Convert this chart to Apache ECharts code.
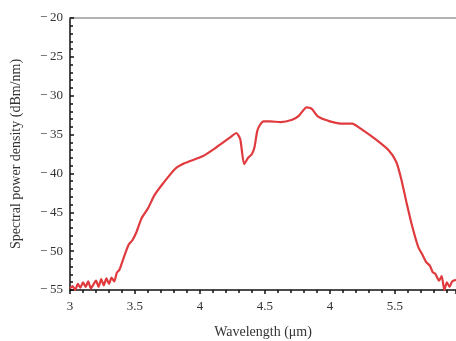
<!DOCTYPE html>
<html>
<head>
<meta charset="utf-8">
<script src="https://cdn.jsdelivr.net/npm/echarts@6/dist/echarts.min.js"></script>
<style>
  html, body { margin: 0; padding: 0; background: #fff; }
  #chart { width: 456px; height: 341px; }
</style>
</head>
<body>
<div id="chart"></div>
<script>
// wavelength (um) and spectral power density (dBm/nm)
const wavelength = [
  3.00, 3.02, 3.04, 3.06, 3.08, 3.10, 3.12, 3.14, 3.16, 3.18, 3.20, 3.22, 3.24, 3.26, 3.28, 3.30,
  3.32, 3.34, 3.36, 3.38, 3.41, 3.45, 3.48, 3.51, 3.55, 3.60, 3.65, 3.72, 3.81, 3.88, 4.02, 4.13,
  4.23, 4.28, 4.31, 4.34, 4.37, 4.40, 4.42, 4.44, 4.46, 4.49, 4.54, 4.62, 4.71, 4.76, 4.82, 4.86,
  4.91, 5.00, 5.10, 5.17, 5.25, 5.35, 5.45, 5.51, 5.55, 5.59, 5.63, 5.68, 5.71, 5.74, 5.77, 5.79,
  5.81, 5.84, 5.86, 5.88, 5.90, 5.92, 5.94, 5.97
];
const power = [
  -54.8, -54.5, -55.0, -54.2, -54.7, -54.0, -54.6, -53.9, -54.8, -54.3, -53.8, -54.6, -53.6, -54.4, -53.5, -54.2,
  -53.4, -53.9, -52.8, -52.4, -51.0, -49.2, -48.6, -47.6, -45.8, -44.5, -42.8, -41.2, -39.4, -38.7, -37.8, -36.6,
  -35.4, -34.8, -35.6, -38.8, -38.0, -37.5, -36.6, -34.6, -33.8, -33.3, -33.3, -33.4, -33.1, -32.6, -31.5, -31.7,
  -32.7, -33.3, -33.6, -33.6, -34.4, -35.6, -37.0, -38.5, -40.8, -43.8, -46.6, -49.5, -50.4, -51.4, -51.9, -52.7,
  -52.9, -53.8, -53.2, -55.0, -54.0, -54.6, -53.9, -53.7
];
const xTicks = { 3: '3', 3.5: '3.5', 4: '4', 4.5: '4.5', 5: '4', 5.5: '5.5' };

const font = 'Liberation Serif';
const chart = echarts.init(document.getElementById('chart'));
chart.setOption({
  animation: false,
  grid: { left: 70, right: 0, top: 18, bottom: 51, outerBoundsMode: 'none' },
  xAxis: [{
    type: 'value', min: 3, max: 5.97, interval: 0.5,
    name: 'Wavelength (μm)', nameLocation: 'middle', nameGap: 35,
    nameTextStyle: { fontFamily: font, fontSize: 14, color: '#333' },
    axisLine: { lineStyle: { color: '#111', width: 1.5 } },
    axisTick: { length: 4, lineStyle: { color: '#111', width: 1.5 } },
    minorTick: { show: true, splitNumber: 5, length: 3, lineStyle: { color: '#111', width: 1.5 } },
    axisLabel: {
      fontFamily: font, fontSize: 13, color: '#333', margin: 10, showMaxLabel: false,
      formatter: v => xTicks[v] !== undefined ? xTicks[v] : ''
    },
    splitLine: { show: false }
  }, {
    type: 'value', position: 'top', min: 3, max: 5.97,
    axisLine: { show: true, lineStyle: { color: '#999', width: 1.5 } },
    axisTick: { show: false }, axisLabel: { show: false }, splitLine: { show: false }
  }],
  yAxis: {
    type: 'value', min: -55, max: -20, interval: 5,
    name: 'Spectral power density (dBm/nm)', nameLocation: 'middle', nameGap: 47,
    nameTextStyle: { fontFamily: font, fontSize: 14, color: '#333' },
    axisLine: { show: true, lineStyle: { color: '#111', width: 1.5 } },
    axisTick: { inside: true, length: 4, lineStyle: { color: '#111', width: 1.5 } },
    minorTick: { show: true, splitNumber: 5, length: 3, lineStyle: { color: '#111', width: 1.5 } },
    axisLabel: {
      fontFamily: font, fontSize: 13, color: '#333', margin: 7,
      formatter: v => '\u2212\u2009' + Math.abs(v)
    },
    splitLine: { show: false }
  },
  series: [{
    type: 'line', xAxisIndex: 0,
    data: wavelength.map((w, i) => [w, power[i]]),
    showSymbol: false, smooth: 0.2, clip: true,
    lineStyle: { color: '#e03a3e', width: 2.2 }
  }]
});
</script>
</body>
</html>
